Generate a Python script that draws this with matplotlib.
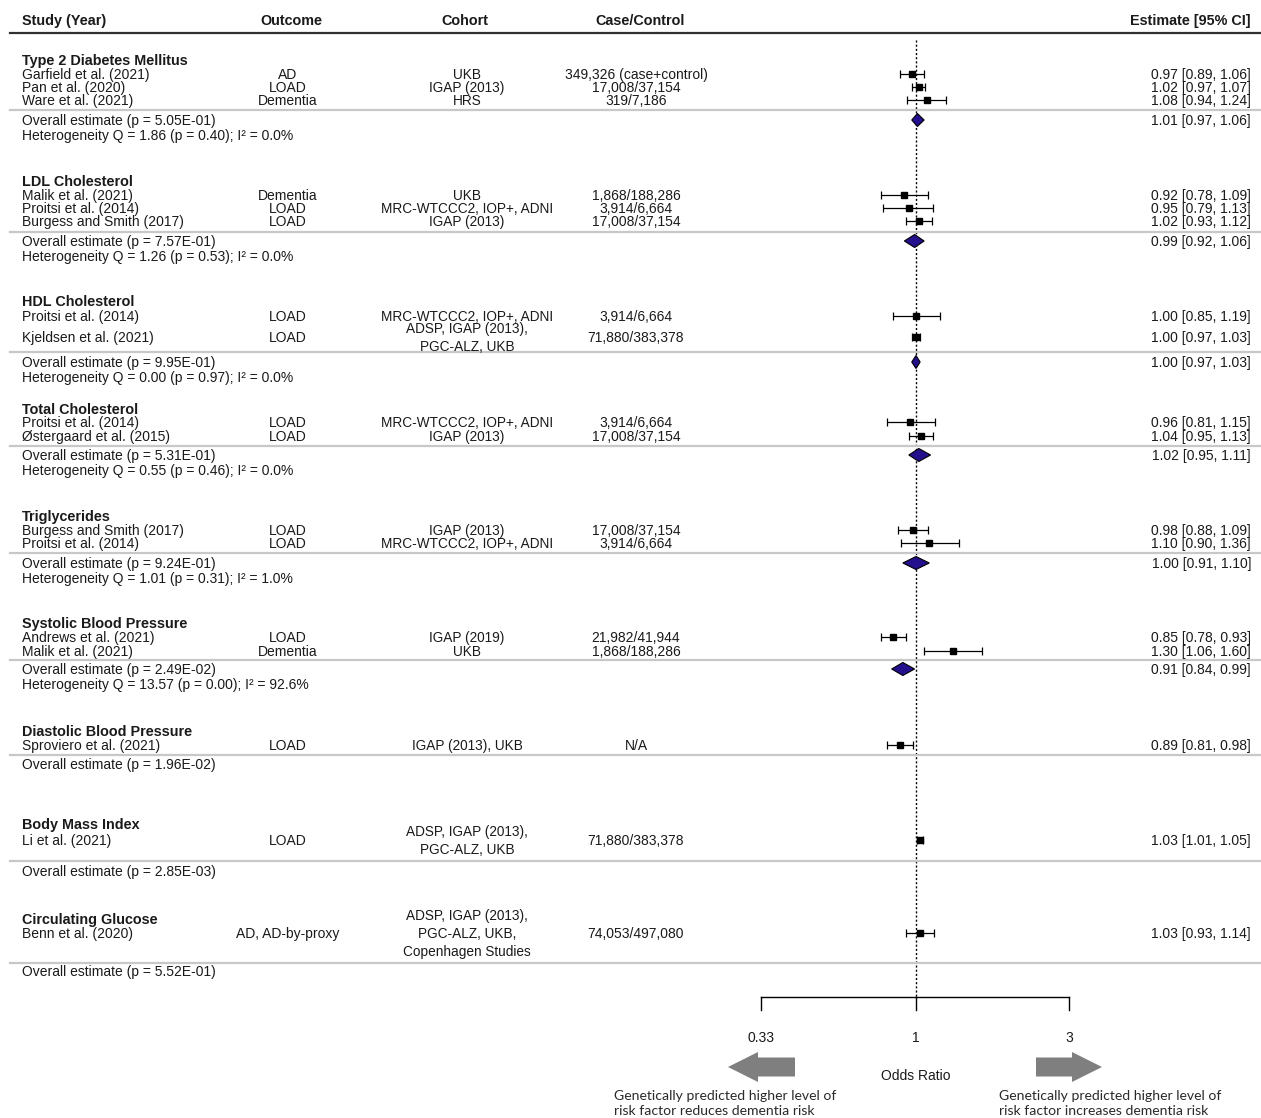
import numpy as np
import matplotlib
matplotlib.use("Agg")
import matplotlib.pyplot as plt
from matplotlib import transforms
from matplotlib.patches import Polygon, FancyArrow

# ---------------- data ----------------
section_titles = ["Type 2 Diabetes Mellitus", "LDL Cholesterol", "HDL Cholesterol",
                  "Total Cholesterol", "Triglycerides", "Systolic Blood Pressure",
                  "Diastolic Blood Pressure", "Body Mass Index", "Circulating Glucose"]

study_names = ["Garfield et al. (2021)", "Pan et al. (2020)", "Ware et al. (2021)",
               "Malik et al. (2021)", "Proitsi et al. (2014)", "Burgess and Smith (2017)",
               "Proitsi et al. (2014)", "Kjeldsen et al. (2021)",
               "Proitsi et al. (2014)", "Østergaard et al. (2015)",
               "Burgess and Smith (2017)", "Proitsi et al. (2014)",
               "Andrews et al. (2021)", "Malik et al. (2021)",
               "Sproviero et al. (2021)", "Li et al. (2021)", "Benn et al. (2020)"]
outcomes = ["AD", "LOAD", "Dementia", "Dementia", "LOAD", "LOAD", "LOAD", "LOAD",
            "LOAD", "LOAD", "LOAD", "LOAD", "LOAD", "Dementia", "LOAD", "LOAD",
            "AD, AD-by-proxy"]
cohorts = ["UKB", "IGAP (2013)", "HRS", "UKB", "MRC-WTCCC2, IOP+, ADNI", "IGAP (2013)",
           "MRC-WTCCC2, IOP+, ADNI", "ADSP, IGAP (2013),\nPGC-ALZ, UKB",
           "MRC-WTCCC2, IOP+, ADNI", "IGAP (2013)", "IGAP (2013)", "MRC-WTCCC2, IOP+, ADNI",
           "IGAP (2019)", "UKB", "IGAP (2013), UKB", "ADSP, IGAP (2013),\nPGC-ALZ, UKB",
           "ADSP, IGAP (2013),\nPGC-ALZ, UKB,\nCopenhagen Studies"]
case_control = ["349,326 (case+control)", "17,008/37,154", "319/7,186",
                "1,868/188,286", "3,914/6,664", "17,008/37,154",
                "3,914/6,664", "71,880/383,378", "3,914/6,664", "17,008/37,154",
                "17,008/37,154", "3,914/6,664", "21,982/41,944", "1,868/188,286",
                "N/A", "71,880/383,378", "74,053/497,080"]
or_est = [0.97, 1.02, 1.08, 0.92, 0.95, 1.02, 1.00, 1.00, 0.96, 1.04, 0.98, 1.10,
          0.85, 1.30, 0.89, 1.03, 1.03]
or_lo = [0.89, 0.97, 0.94, 0.78, 0.79, 0.93, 0.85, 0.97, 0.81, 0.95, 0.88, 0.90,
         0.78, 1.06, 0.81, 1.01, 0.93]
or_hi = [1.06, 1.07, 1.24, 1.09, 1.13, 1.12, 1.19, 1.03, 1.15, 1.13, 1.09, 1.36,
         0.93, 1.60, 0.98, 1.05, 1.14]

overall_p = ["5.05E-01", "7.57E-01", "9.95E-01", "5.31E-01", "9.24E-01", "2.49E-02",
             "1.96E-02", "2.85E-03", "5.52E-01"]
overall_est = [1.01, 0.99, 1.00, 1.02, 1.00, 0.91]
overall_lo = [0.97, 0.92, 0.97, 0.95, 0.91, 0.84]
overall_hi = [1.06, 1.06, 1.03, 1.11, 1.10, 0.99]
het_q = ["1.86", "1.26", "0.00", "0.55", "1.01", "13.57"]
het_p = ["0.40", "0.53", "0.97", "0.46", "0.31", "0.00"]
het_i2 = ["0.0", "0.0", "0.0", "0.0", "1.0", "92.6"]

axis_ticks = [0.33, 1, 3]
axis_tick_labels = ["0.33", "1", "3"]

# ---------------- layout (pixel rows) ----------------
W, H = 1261, 1118
title_y = [60, 181, 301, 409, 516, 623, 731, 824, 919]
row_y = [74, 87, 100, 195, 208, 221, 316, 337, 422, 436, 530, 543, 637, 651, 745, 840, 933]
sep_y = [110, 232, 352, 446, 553, 660, 755, 861, 963]
overall_y = [120, 241, 362, 455, 563, 669, 764, 871, 971]

FONT = "Liberation Sans"
FS = 10.0
TXT = "#1a1a1a"
DY = 1.0  # text baseline nudge

fig = plt.figure(figsize=(W / 100, H / 100), dpi=100)
ax = fig.add_axes([0, 0, 1, 1])
ax.set_xscale("log")
px_per_ln = 139.5
x_one = 916.0
ax.set_xlim(np.exp(-x_one / px_per_ln), np.exp((W - x_one) / px_per_ln))
ax.set_ylim(H, 0)
ax.axis("off")

tx = transforms.blended_transform_factory(ax.transAxes, ax.transData)


def T(xpix, y, s, ha="left", bold=False, size=FS, **kw):
    ax.text(xpix / W, y + DY, s, transform=tx, ha=ha, va="center", fontsize=size,
            family=FONT, fontweight="bold" if bold else "normal", color=TXT, **kw)


# header
T(22, 20, "Study (Year)", bold=True, size=10.4)
T(291, 20, "Outcome", ha="center", bold=True, size=10.4)
T(465, 20, "Cohort", ha="center", bold=True, size=10.4)
T(640, 20, "Case/Control", ha="center", bold=True, size=10.4)
T(1251, 20, "Estimate [95% CI]", ha="right", bold=True, size=10.4)
ax.plot([10 / W, 1.0], [33, 33], transform=tx, color="#303030", lw=1.6)

# reference line
ax.vlines(1.0, 40, 997, colors="black", linestyles=(0, (1.5, 1.5)), lw=1.0)

# sections
for i, title in enumerate(section_titles):
    T(22, title_y[i], title, bold=True, size=10.4)
    ax.plot([10 / W, 1.0], [sep_y[i], sep_y[i]], transform=tx, color="#c8c8c8", lw=1.6)
    T(22, overall_y[i], "Overall estimate (p = %s)" % overall_p[i])
    if i < len(overall_est):
        T(22, overall_y[i] + 15,
          "Heterogeneity Q = %s (p = %s); I² = %s%%" % (het_q[i], het_p[i], het_i2[i]))
        e, lo, hi = overall_est[i], overall_lo[i], overall_hi[i]
        yy = overall_y[i]
        hh = 6.5
        ax.add_patch(Polygon([(lo, yy), (e, yy - hh), (hi, yy), (e, yy + hh)],
                             closed=True, facecolor="#24108c", edgecolor="black", lw=0.8,
                             zorder=4))
        T(1251, yy, "%.2f [%.2f, %.2f]" % (e, lo, hi), ha="right")

# studies
for j in range(len(study_names)):
    y = row_y[j]
    T(22, y, study_names[j])
    T(288, y, outcomes[j], ha="center")
    T(467, y, cohorts[j], ha="center", linespacing=1.4, size=9.8)
    T(636, y, case_control[j], ha="center")
    T(1251, y, "%.2f [%.2f, %.2f]" % (or_est[j], or_lo[j], or_hi[j]), ha="right")
    ax.errorbar([or_est[j]], [y],
                xerr=[[or_est[j] - or_lo[j]], [or_hi[j] - or_est[j]]],
                fmt="s", color="black", ms=4.6, elinewidth=0.9, capsize=3.2,
                capthick=0.9, zorder=5)

# x axis
ax.plot([axis_ticks[0], axis_ticks[-1]], [997, 997], color="black", lw=1.0)
for t, lab in zip(axis_ticks, axis_tick_labels):
    ax.plot([t, t], [997, 1010], color="black", lw=1.0)
    ax.text(t, 1038, lab, ha="center", va="center", fontsize=FS, family=FONT, color=TXT)
ax.text(1.0, 1076, "Odds Ratio", ha="center", va="center", fontsize=FS, family=FONT,
        color=TXT)

# overlay for arrows and captions
ax2 = fig.add_axes([0, 0, 1, 1])
ax2.set_xlim(0, W)
ax2.set_ylim(H, 0)
ax2.axis("off")
ax2.patch.set_alpha(0)
ax2.add_patch(FancyArrow(795, 1067, -67, 0, width=19, head_width=30, head_length=30,
                         length_includes_head=True, color="#7f7f7f", lw=0))
ax2.add_patch(FancyArrow(1036, 1067, 66, 0, width=19, head_width=30, head_length=30,
                         length_includes_head=True, color="#7f7f7f", lw=0))
cap_kw = dict(ha="left", va="center", fontsize=10.1, family="Lato", color="#2a2a2a")
ax2.text(614, 1096, "Genetically predicted higher level of", **cap_kw)
ax2.text(614, 1111, "risk factor reduces dementia risk", **cap_kw)
ax2.text(999, 1096, "Genetically predicted higher level of", **cap_kw)
ax2.text(999, 1111, "risk factor increases dementia risk", **cap_kw)

fig.savefig("out.png", dpi=100, facecolor="white")
